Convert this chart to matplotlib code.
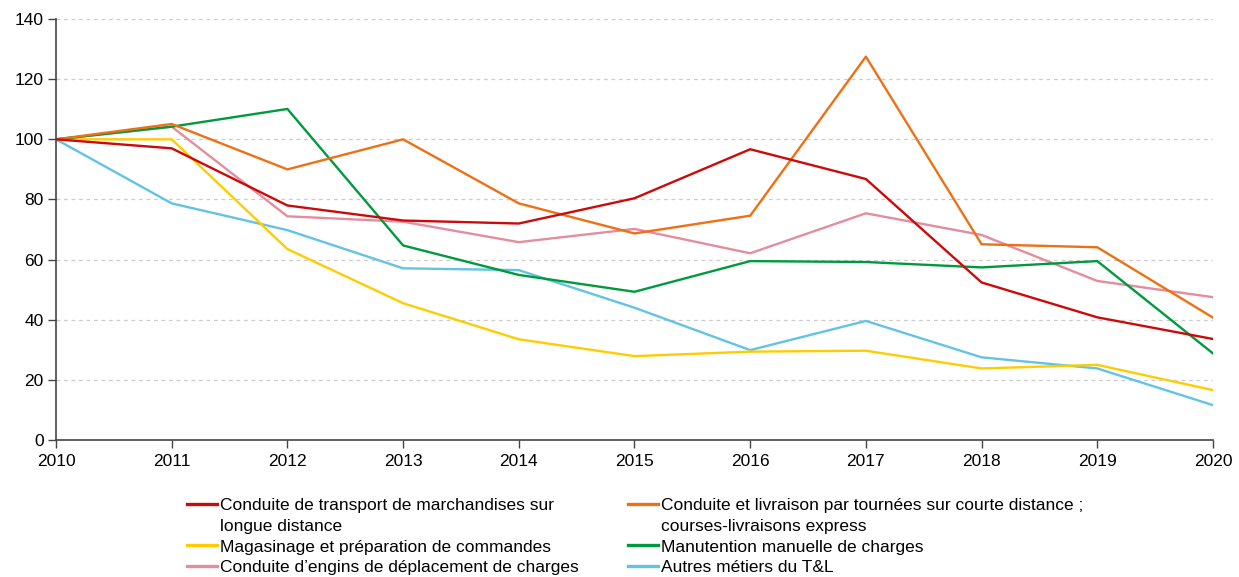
import numpy as np
import matplotlib.pyplot as plt
from matplotlib.lines import Line2D

plt.rcParams['font.family'] = ['Liberation Sans', 'DejaVu Sans']

years = [2010, 2011, 2012, 2013, 2014, 2015, 2016, 2017, 2018, 2019, 2020]

longue = [100, 97, 78, 73, 72, 80.4, 96.7, 86.8, 52.4, 40.8, 33.6]
courte = [100, 105.1, 90, 100, 78.7, 68.7, 74.6, 127.5, 65.1, 64.1, 40.7]
magasin = [100, 100, 63.5, 45.5, 33.5, 27.9, 29.4, 29.7, 23.8, 25.0, 16.6]
manut = [100, 104.2, 110.1, 64.7, 54.9, 49.3, 59.5, 59.2, 57.4, 59.5, 28.8]
engins = [100, 104.2, 74.4, 72.6, 65.8, 70.2, 62.1, 75.4, 68.2, 52.9, 47.5]
autres = [100, 78.7, 69.8, 57.1, 56.5, 44.0, 29.9, 39.6, 27.5, 23.8, 11.6]

labels = ["Conduite de transport de marchandises sur\nlongue distance",
          "Conduite et livraison par tournées sur courte distance ;\ncourses-livraisons express",
          "Magasinage et préparation de commandes",
          "Manutention manuelle de charges",
          "Conduite d\u2019engins de déplacement de charges",
          "Autres métiers du T&L"]

c_red = '#cc0a0a'
c_orange = '#ee7014'
c_yellow = '#ffcc00'
c_green = '#009a3e'
c_pink = '#e38d9e'
c_blue = '#62c3e3'

fig = plt.figure(figsize=(12.39, 5.77), dpi=100)
ax = fig.add_axes([0.0452, 0.2374, 0.9338, 0.7296])

# drawing order roughly as in the picture
ax.plot(years, autres, color=c_blue, lw=1.7)
ax.plot(years, magasin, color=c_yellow, lw=1.7)
ax.plot(years, engins, color=c_pink, lw=1.7)
ax.plot(years, manut, color=c_green, lw=1.7)
ax.plot(years, courte, color=c_orange, lw=1.7)
ax.plot(years, longue, color=c_red, lw=1.7)

ax.set_xlim(2010, 2020)
ax.set_ylim(0, 140)
ax.set_xticks(years)
ax.set_yticks(np.arange(0, 141, 20))
ax.yaxis.grid(True, color='#cccccc', linestyle=(0, (3, 3)), lw=0.9)
ax.set_axisbelow(True)
for s in ['top', 'right']:
    ax.spines[s].set_visible(False)
for s in ['left', 'bottom']:
    ax.spines[s].set_color('#444444')
    ax.spines[s].set_linewidth(1.2)
ax.tick_params(axis='both', labelsize=12.5, colors='#444444', labelcolor='black', length=6, width=1)
ax.tick_params(axis='x', pad=4)
ax.tick_params(axis='y', pad=3)

# legend: continuation lines get an empty handle so the coloured line sits on the first line
blank = Line2D([], [], linestyle='none')
l1, l1b = labels[0].split('\n')
l2, l2b = labels[1].split('\n')
handles = [Line2D([], [], color=c_red, lw=2.4), blank,
           Line2D([], [], color=c_yellow, lw=2.4), Line2D([], [], color=c_pink, lw=2.4),
           Line2D([], [], color=c_orange, lw=2.4), blank,
           Line2D([], [], color=c_green, lw=2.4), Line2D([], [], color=c_blue, lw=2.4)]
texts = [l1, l1b, labels[2], labels[4], l2, l2b, labels[3], labels[5]]
fig.legend(handles, texts, ncol=2, loc='upper left', bbox_to_anchor=(0.151, 0.137),
           frameon=False, fontsize=12.5, handlelength=1.72, handletextpad=0.17,
           columnspacing=2.85, labelspacing=0.32, borderaxespad=0, borderpad=0)

fig.savefig('out.png', dpi=100)
